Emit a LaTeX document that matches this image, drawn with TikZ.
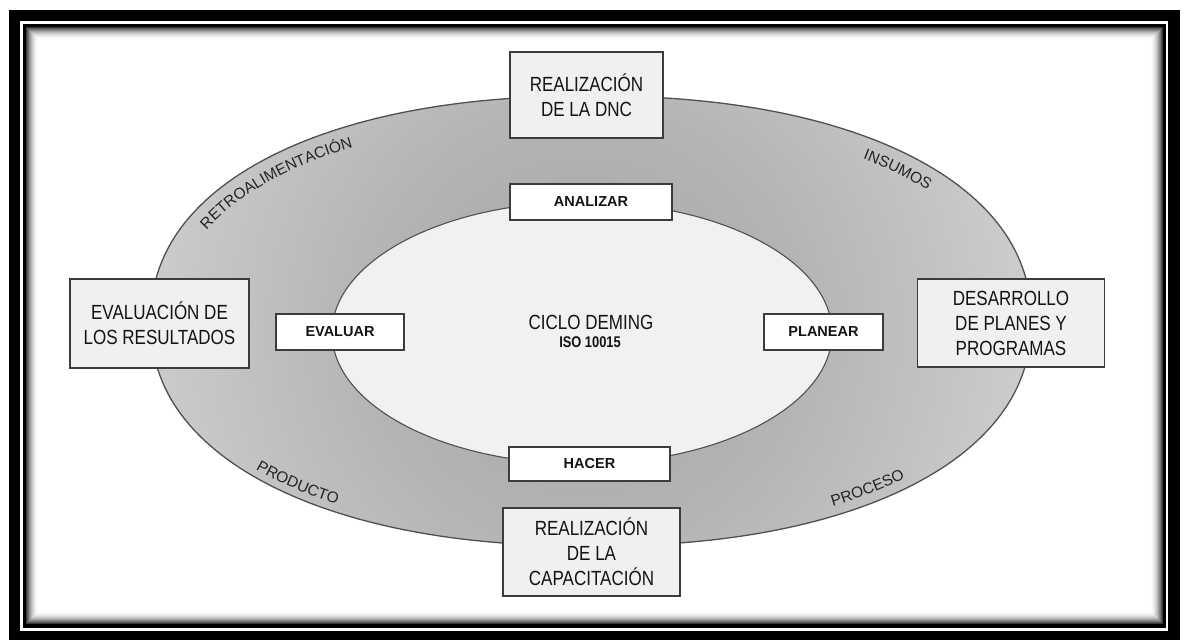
\documentclass[tikz,border=0pt]{standalone}
\usepackage{fontspec}
\setmainfont{Liberation Sans}
\newfontfamily\narrowfont[FakeStretch=0.83]{Liberation Sans}
\usetikzlibrary{decorations.text}
\definecolor{rg0}{RGB}{165,165,165}
\definecolor{rg1}{RGB}{180,180,180}
\definecolor{rg2}{RGB}{205,205,205}
\definecolor{rg3}{RGB}{215,215,215}
\definecolor{rg4}{RGB}{240,240,240}
\definecolor{boxline}{RGB}{60,60,60}
\definecolor{bigfill}{RGB}{240,240,240}
\definecolor{innerfill}{RGB}{241,241,241}
\definecolor{textdark}{RGB}{20,20,20}
\definecolor{lbltext}{RGB}{35,35,35}
\definecolor{ringline}{RGB}{80,80,80}
\pgfdeclareradialshading{ringshade}{\pgfpoint{0bp}{0bp}}{color(0bp)=(rg0); color(12bp)=(rg1); color(25bp)=(rg2); color(30bp)=(rg3); color(50bp)=(rg4)}
\pgfmathdeclarefunction{spc}{1}{\pgfmathparse{sign(cos(#1))*(abs(cos(#1))+0.00001)^0.909}}
\pgfmathdeclarefunction{sps}{1}{\pgfmathparse{sign(sin(#1))*(abs(sin(#1))+0.00001)^0.909}}
\newcommand\lblfont{\fontsize{15.5}{17}\selectfont}
\tikzset{
  bigbox/.style={draw=boxline, line width=1.3pt, fill=bigfill, inner sep=0pt, align=center,
    font=\narrowfont\fontsize{20.5}{25}\selectfont, text=textdark},
  smallbox/.style={draw=boxline, line width=1.3pt, fill=white, inner sep=0pt,
    font=\bfseries\fontsize{14.5}{17}\selectfont, text=textdark},
  arclabel/.style={decorate, decoration={text along path, text align=center, text color=lbltext, text={|\lblfont|#1}}}
}
\begin{document}
\begin{tikzpicture}[x=1pt,y=1pt]
\useasboundingbox (0,0) rectangle (1185,640);
% frame
\fill[white] (0,0) rectangle (1185,640);
\fill[black] (9,0) rectangle (1180,630);
\fill[white] (20,9) rectangle (1168,619);
\fill[black] (23,12) rectangle (1166,616);
\fill[white] (26,16) rectangle (1163,613);
\foreach \i/\g in {0/78,1/66,2/55,3/45,4/36,5/28,6/21,7/15,8/10,9/6,10/3,11/1}{
  \draw[black!\g, line width=1pt] ({26.5+\i},{16.5+\i}) rectangle ({1162.5-\i},{612.5-\i});
}
% outer ring
\begin{scope}
  \clip plot[domain=0:360, samples=241] ({591+440*spc(\x)},{319+225*sps(\x)}) -- cycle;
  \shade[shading=ringshade] (584,313) circle (450);
\end{scope}
\draw[ringline, line width=1.3pt] plot[domain=0:360, samples=241] ({591+440*spc(\x)},{319+225*sps(\x)}) -- cycle;
% inner ellipse
\draw[ringline, line width=1.1pt, fill=innerfill] (582,307) ellipse [x radius=250, y radius=131];
% curved labels
\path[arclabel={RETROALIMENTACIÓN}] plot[domain=166:116, samples=40] ({591+418*spc(\x)},{319+203*sps(\x)});
\path[arclabel={INSUMOS}] plot[domain=57:31, samples=30] ({591+418*spc(\x)},{319+203*sps(\x)});
\path[arclabel={PRODUCTO}] plot[domain=215:241, samples=30] ({591+433*spc(\x)},{319+217*sps(\x)});
\path[arclabel={PROCESO}] plot[domain=297:321, samples=30] ({591+431*spc(\x)},{319+215*sps(\x)});
% boxes
\node[bigbox, minimum width=153pt, minimum height=86pt] (dnc) at (586.5,545) {REALIZACIÓN\\DE LA DNC};
\node[bigbox, minimum width=177pt, minimum height=88pt] (cap) at (591.5,88) {REALIZACIÓN\\DE LA\\CAPACITACIÓN};
\node[bigbox, minimum width=179pt, minimum height=89pt] (evalres) at (159.5,316.5) {EVALUACIÓN DE\\LOS RESULTADOS};
\node[bigbox, minimum width=187pt, minimum height=88pt] (desarrollo) at (1011,317) {DESARROLLO\\DE PLANES Y\\PROGRAMAS};
\node[smallbox, minimum width=162pt, minimum height=36pt] (analizar) at (591,438) {ANALIZAR};
\node[smallbox, minimum width=161pt, minimum height=34pt] (hacer) at (589.5,176) {HACER};
\node[smallbox, minimum width=128pt, minimum height=36pt] (evaluar) at (340,308) {EVALUAR};
\node[smallbox, minimum width=119pt, minimum height=36pt] (planear) at (823.5,308) {PLANEAR};
% centre text
\node[anchor=base, inner sep=0pt, text=textdark, font=\narrowfont\fontsize{20.5}{24}\selectfont] (ciclo) at (591,310) {CICLO DEMING};
\node[anchor=base, inner sep=0pt, text=textdark, font=\narrowfont\bfseries\fontsize{15.5}{18}\selectfont] (iso) at (590,292) {ISO 10015};
\end{tikzpicture}
\end{document}
